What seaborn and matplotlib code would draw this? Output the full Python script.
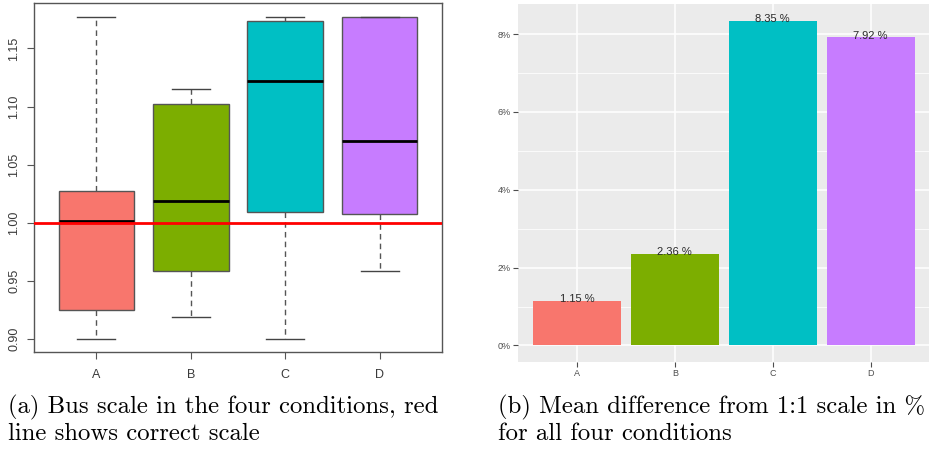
import numpy as np
import pandas as pd
import matplotlib
matplotlib.use("Agg")
import matplotlib.pyplot as plt
import seaborn as sns
from matplotlib.ticker import FuncFormatter, MultipleLocator

conditions = ["A", "B", "C", "D"]
colors = ["#F8766D", "#7CAE00", "#00BFC4", "#C77CFF"]

# five-number summaries
scale_min = [0.900, 0.919, 0.900, 0.959]
scale_q1 = [0.925, 0.959, 1.0095, 1.0075]
scale_median = [1.0015, 1.019, 1.122, 1.070]
scale_q3 = [1.027, 1.102, 1.174, 1.177]
scale_max = [1.177, 1.115, 1.177, 1.177]
correct_scale = 1.0
scale_ticks = [0.90, 0.95, 1.00, 1.05, 1.10, 1.15]

# panel (b): mean difference from 1:1 scale, in percent
mean_diff_pct = [1.15, 2.36, 8.35, 7.92]
pct_ticks = [0, 2, 4, 6, 8]

# five values per group -> quartiles land exactly on the summary numbers
rows = []
for i, c in enumerate(conditions):
    for v in (scale_min[i], scale_q1[i], scale_median[i], scale_q3[i], scale_max[i]):
        rows.append({"condition": c, "scale": v})
scale_df = pd.DataFrame(rows)
diff_df = pd.DataFrame({"condition": conditions, "diff": mean_diff_pct})

fig = plt.figure(figsize=(9.33, 4.49), dpi=100)
ax1 = fig.add_axes([0.0364, 0.216, 0.4373, 0.7773])
ax2 = fig.add_axes([0.5555, 0.1944, 0.4405, 0.796])

# (a) base-R style boxplot
sns.boxplot(data=scale_df, x="condition", y="scale", hue="condition",
            palette=colors, legend=False, saturation=1, width=0.8,
            whis=(0, 100), showfliers=False, linecolor="#555555", linewidth=1,
            medianprops=dict(color="black", linewidth=2),
            whiskerprops=dict(color="#555555", linestyle=(0, (4, 3))),
            capprops=dict(color="#444444"), ax=ax1)
ax1.axhline(correct_scale, color="#FF0000", lw=2, zorder=10)
ax1.set_xlim(-0.66, 3.66)
ax1.set_ylim(0.8889, 1.1891)
ax1.set_yticks(scale_ticks)
ax1.yaxis.set_major_formatter(FuncFormatter(lambda v, p: f"{v:.2f}"))
ax1.set_xlabel("")
ax1.set_ylabel("")
for s in ax1.spines.values():
    s.set_color("#555555")
    s.set_linewidth(1)
ax1.tick_params(axis="both", length=5, color="#555555", labelsize=9,
                labelcolor="#3a3a3a")
ax1.tick_params(axis="y", pad=5)
ax1.tick_params(axis="x", pad=7)
for lab in ax1.get_yticklabels():
    lab.set_rotation(90)
    lab.set_va("center")
    lab.set_fontfamily("Liberation Sans")
for lab in ax1.get_xticklabels():
    lab.set_fontfamily("Liberation Sans")

# (b) ggplot style bar chart
sns.barplot(data=diff_df, x="condition", y="diff", hue="condition",
            palette=colors, legend=False, saturation=1, width=0.9, ax=ax2,
            zorder=3)
ax2.set_facecolor("#EBEBEB")
ax2.set_xlim(-0.6, 3.6)
ax2.set_ylim(-0.4175, 8.7675)
ax2.set_yticks(pct_ticks)
ax2.yaxis.set_minor_locator(MultipleLocator(1))
ax2.yaxis.set_major_formatter(FuncFormatter(lambda v, p: f"{v:.0f}%"))
ax2.grid(which="major", color="white", lw=1.1, zorder=0)
ax2.grid(which="minor", axis="y", color="white", lw=0.55, zorder=0)
ax2.set_axisbelow(True)
for s in ax2.spines.values():
    s.set_visible(False)
ax2.set_xlabel("")
ax2.set_ylabel("")
ax2.tick_params(axis="both", which="major", length=3.5, color="#4D4D4D",
                labelsize=6.5, labelcolor="#4D4D4D", pad=2)
ax2.tick_params(axis="y", which="minor", length=0)
for lab in ax2.get_yticklabels() + ax2.get_xticklabels():
    lab.set_fontfamily("Liberation Sans")
for cont in ax2.containers:
    ax2.bar_label(cont, fmt="%.2f %%", padding=-2.5, fontsize=8,
                  color="#2a2a2a", fontfamily="Liberation Sans")

cap_font = ["cmr10", "DejaVu Serif"]
fig.text(0.0086, 1 - 407 / 449, "(a) Bus scale in the four conditions, red",
         fontsize=17.8, family=cap_font, va="center")
fig.text(0.0086, 1 - 434 / 449, "line shows correct scale",
         fontsize=17.8, family=cap_font, va="center")
fig.text(0.5338, 1 - 407 / 449, "(b) Mean difference from 1:1 scale in %",
         fontsize=17.8, family=cap_font, va="center")
fig.text(0.5338, 1 - 434 / 449, "for all four conditions",
         fontsize=17.8, family=cap_font, va="center")

fig.savefig("out.png", dpi=100)
